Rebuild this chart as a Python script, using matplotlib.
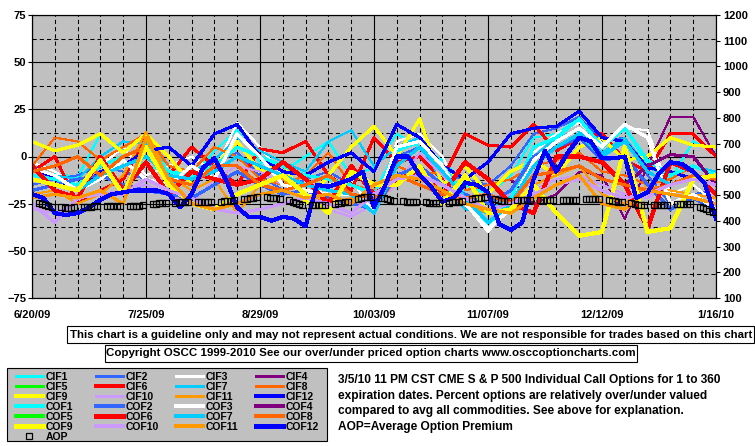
import matplotlib
matplotlib.use('Agg')
import matplotlib.pyplot as plt
from matplotlib.patches import Rectangle
from matplotlib.lines import Line2D
import pandas as pd

plt.rcParams['font.family'] = ['Liberation Sans', 'DejaVu Sans']
plt.rcParams['font.weight'] = 'bold'
plt.rcParams['lines.scale_dashes'] = False

W, H = 755, 446

# x axis = days since 6/20/09, one reading per week (half week for COF12)
week_days = list(range(0, 211, 7))
half_week_days = [d / 2 for d in range(0, 421, 7)]
tick_days = [0, 35, 70, 105, 140, 175, 210]
date_labels = ['6/20/09', '7/25/09', '8/29/09', '10/03/09', '11/07/09', '12/12/09', '1/16/10']

# percent over/under valued (left axis); None = nothing visible that week
cif1 = [-10, -9, -11, 12, 3, -5, -8, -12, 3, 14, -3, -8, 0, 8, -10, -6, 12, 5, -2, -15, -20, -10, 10, 12, 20, 4, 16, -5, -12, 8, 2]
cif2 = [-15, -12, -10, -5, -8, -12, -15, -10, -3, 2, -10, -18, -12, -8, -15, -20, 0, 5, -10, -12, -15, -5, 12, 15, 21, 8, 10, -10, -25, -20, -18]
cif3 = [-3, -8, -15, -5, 5, -10, -5, 0, -8, 18, 5, -10, -22, -15, -12, -30, 8, 12, 0, -25, -40, -25, 2, 12, 18, 7, 15, 14, -20, -15, -25]
cif4 = [None] * 21 + [-12, -25, -20, -8, -10, -33, -5, 21, 21, 0]
cif5 = []
cif6 = [-8, 0, -25, -18, -12, 10, -10, 5, -5, -15, 4, 2, 8, -10, -18, 10, -3, 0, -12, 12, 6, 5, 17, 3, 10, 12, -2, -8, 12, 12, 0]
cif7 = [-10, -10, -12, 0, 8, 7, -5, -8, -2, 10, 3, -3, -8, 8, 14, -5, 5, 10, -15, -28, -30, -20, 0, 10, 14, 2, 10, -6, -10, -5, -8]
cif8 = [-5, 10, 8, -2, 5, 12, -5, -8, 5, 0, -12, -15, -10, 2, -15, -18, -5, -10, -8, -18, -15, -12, -5, -2, 2, -8, -10, -15, -12, -5, -10]
cif9 = [8, 3, 6, 12, 2, 12, 0, -15, -5, 8, -8, -3, -25, -10, 5, 16, 0, 20, -15, -5, -20, -8, -2, -10, 5, 10, -2, 0, 10, 6, 5]
cif10 = [-28, -30, -25, -20, -18, -15, -20, -25, -12, -5, -8, -15, -20, -28, -32, -25, -15, 2, -10, -20, -25, -20, -18, -12, -10, -15, -20, -22, -15, -10, -12]
cif11 = [-20, -18, -25, -20, -10, 13, -10, -18, -12, -30, -15, -12, -20, -25, -22, -28, -12, -8, -20, -25, -30, -28, -15, -10, -5, -20, -25, -15, -18, -20, -22]
cif12 = [-5, -12, -18, -8, -5, 3, 5, -5, 12, 17, 0, -8, -10, -3, 2, -8, 17, 10, -5, -12, -3, 12, 15, 16, 24, 10, 8, -6, -8, -12, -15]
cof1 = [-10, -12, -15, -5, 0, 5, -8, -10, -5, 5, 0, -5, -10, -12, -15, -20, 3, 8, -5, -20, -38, -22, 5, 10, 20, 5, 15, -2, -10, -5, -10]
cof2 = [-18, -15, -12, -10, -15, -18, -20, -22, -15, -8, -15, -20, -18, -22, -25, -28, -10, -5, -15, -20, -25, -18, 0, 5, 10, -2, 0, -15, -28, -22, -28]
cof3 = [-6, -10, -18, -12, -2, -12, -15, -5, -12, 12, 0, -15, -18, -20, -20, -28, 5, 8, -5, -25, -38, -28, -2, 8, 15, 5, 17, 10, -25, -20, -28]
cof4 = [None] * 25 + [-12, -15, -5, 1, 0, -15]
cof5 = []
cof6 = [-5, -18, -22, 0, -18, -3, -20, -8, -12, -15, -12, -3, -12, -25, -5, -20, -12, -8, -20, -3, -12, -25, -30, 0, 0, -3, -15, -38, -3, -8, -20]
cof7 = [-12, -15, -18, -10, -5, 0, -10, -12, -8, 0, -5, -10, -15, -18, -20, -30, -5, 5, -8, -22, -35, -25, -5, 5, 12, 0, 8, -8, -15, -10, -12]
cof8 = [-8, -5, 0, -10, 0, 5, -12, -15, -5, -5, -15, -18, -15, -10, -20, -22, -10, -15, -20, -22, -20, -25, -10, -8, -5, -12, -15, -18, -15, -10, -12]
cof9 = [-12, -15, -18, -2, -20, 5, -15, -25, -28, -20, -15, -10, -20, -30, -8, -15, -15, -5, -25, -10, -30, -28, -15, -30, -42, -40, 5, -40, -38, -12, -10]
cof10 = [-25, -35, -22, -20, -20, -12, -18, -22, -28, -30, -28, -25, -22, -25, -30, -20, -12, -10, -15, -22, -28, -25, -20, -15, -12, -18, -22, -20, -15, -12, -15]
cof11 = [-22, -20, -22, -18, -25, 10, -12, -25, -28, -25, -20, -18, -22, -20, -25, -15, -10, -12, -18, -25, -28, -30, -22, -15, -10, -25, -28, -18, -20, -22, -25]
cof12 = [-20, -22, -30, -31, -30, -27, -23, -20, -19, -18, -18, -18, -20, -27, -20, -6,
         -1, -12, -27, -32, -32, -34, -32, -33, -37, -15, -16, -14, -12, -8, -27, -15,
         0, 0, -10, -16, -24, -22, -14, -15, -19, -36, -39, -35, -12, 3,
         -8, 2, 10, 8, -1, -1, 0, -22, -19, -9, -3, -4, -8, -14, -33]

# average option premium (right axis), one value per trading day
aop = [468, 466, 462, 458, 455, 452, 450, 449, 450, 452,
       453, 454, 455, 456, 456, 456, 457, 457, 457, 458,
       458, 458, 459, 459, 460, 464, 466, 468, 469, 470,
       471, 472, 472, 473, 473, 473, 473, 474, 474, 474,
       475, 476, 477, 478, 479, 484, 486, 488, 490, 491,
       491, 490, 489, 488, 486, 480, 475, 470, 466, 463,
       462, 461, 461, 462, 463, 467, 469, 471, 473, 475,
       486, 489, 491, 492, 491, 489, 487, 484, 481, 478,
       476, 475, 474, 473, 473, 472, 471, 470, 470, 471,
       471, 472, 473, 474, 476, 484, 487, 489, 490, 491,
       486, 482, 478, 476, 476, 480, 480, 481, 481, 481,
       481, 481, 481, 482, 482, 481, 481, 481, 482, 482,
       483, 483, 484, 484, 483, 480, 478, 476, 474, 473,
       470, 466, 463, 461, 460, 460, 460, 461, 461, 462,
       465, 466, 466, 465, 464, 452, 448, 444, 440, 436]
trade_dates = pd.bdate_range('2009-06-22', '2010-01-15')
aop_days = list((trade_dates - pd.Timestamp('2009-06-20')).days)

names = ['CIF1', 'CIF2', 'CIF3', 'CIF4', 'CIF5', 'CIF6', 'CIF7', 'CIF8', 'CIF9', 'CIF10', 'CIF11', 'CIF12',
         'COF1', 'COF2', 'COF3', 'COF4', 'COF5', 'COF6', 'COF7', 'COF8', 'COF9', 'COF10', 'COF11', 'COF12']
series = [cif1, cif2, cif3, cif4, cif5, cif6, cif7, cif8, cif9, cif10, cif11, cif12,
          cof1, cof2, cof3, cof4, cof5, cof6, cof7, cof8, cof9, cof10, cof11, cof12]

palette = ['#00FFFF', '#3366FF', '#FFFFFF', '#800080', '#00FF00', '#FF0000',
           '#00CCFF', '#FF6600', '#FFFF00', '#CC99FF', '#FF9900', '#0000FF']
cif_widths = [0.75, 0.75, 0.75, 0.75, 0.75, 1.5, 0.75, 0.75, 1.5, 0.75, 0.75, 1.5]
cof_widths = [1.5, 1.5, 1.5, 1.5, 1.5, 2.25, 1.5, 1.5, 2.25, 1.5, 1.5, 2.25]
colors = palette + palette
widths = cif_widths + cof_widths

fig = plt.figure(figsize=(W / 100, H / 100), dpi=100)
fig.patch.set_facecolor('white')
ax = fig.add_axes([32 / W, 1 - 298 / H, (716 - 32) / W, (298 - 15) / H])
ax.set_facecolor('#C0C0C0')

handles = {}
for name, vals, c, lw in zip(names, series, colors, widths):
    vals = [float('nan') if v is None else v for v in vals]
    xs = half_week_days if len(vals) == len(half_week_days) else week_days[:len(vals)]
    ln, = ax.plot(xs, vals, color=c, lw=lw, antialiased=False)
    handles[name] = ln

ax.set_xlim(0, 210)
ax.set_ylim(-75, 75)
ax.set_xticks(tick_days)
ax.set_xticklabels(date_labels)
ax.set_xticks(list(range(7, 210, 7)), minor=True)
ax.set_yticks([-75, -50, -25, 0, 25, 50, 75])
ax.set_yticks([-62.5, -37.5, -12.5, 12.5, 37.5, 62.5], minor=True)
ax.grid(True, which='major', color='black', lw=0.8, ls='-')
ax.grid(True, which='minor', color='black', lw=0.75, ls=(0, (3, 2.2)))
ax.set_axisbelow(True)
ax.tick_params(axis='x', which='both', length=0, pad=9, labelsize=8)
ax.tick_params(axis='y', which='major', length=3, width=0.8, pad=1, labelsize=8, direction='out')
ax.tick_params(axis='y', which='minor', length=0)
for s in ax.spines.values():
    s.set_color('black')
    s.set_linewidth(0.8)

ax2 = ax.twinx()
ax2.set_ylim(100, 1200)
ax2.set_yticks(list(range(100, 1201, 100)))
ax2.tick_params(axis='y', length=3, width=0.8, pad=2, labelsize=8, direction='out')
aop_ln, = ax2.plot(aop_days, aop, ls='none', marker='s', ms=4, mfc='none', mec='black', mew=0.9)
handles['AOP'] = aop_ln


def fx(x):
    return x / W


def fy(y):
    return 1 - y / H


# disclaimer boxes
fig.patches.append(Rectangle((fx(67), fy(343)), fx(754) - fx(67), fy(326) - fy(343),
                             transform=fig.transFigure, facecolor='white', edgecolor='black', lw=0.8))
fig.text(fx(411), fy(334.5), 'This chart is a guideline only and may not represent actual conditions. '
         'We are not responsible for trades based on this chart', ha='center', va='center', fontsize=8.25)
fig.patches.append(Rectangle((fx(105), fy(362)), fx(637) - fx(105), fy(345) - fy(362),
                             transform=fig.transFigure, facecolor='white', edgecolor='black', lw=0.8))
fig.text(fx(371), fy(353.5), 'Copyright OSCC 1999-2010 See our over/under priced option charts www.osccoptioncharts.com',
         ha='center', va='center', fontsize=8.25)

# legend box, laid out row by row like the original
fig.patches.append(Rectangle((fx(7), fy(441)), fx(327) - fx(7), fy(368) - fy(441),
                             transform=fig.transFigure, facecolor='#C0C0C0', edgecolor='black', lw=0.8))
for i, name in enumerate(names + ['AOP']):
    x0 = 16 + 80 * (i % 4)
    yc = 376 + 10 * (i // 4)
    h = handles[name]
    if name == 'AOP':
        fig.add_artist(Line2D([fx(x0 + 13)], [fy(yc)], transform=fig.transFigure, ls='none',
                              marker='s', ms=4, mfc='none', mec='black', mew=0.9))
    else:
        fig.add_artist(Line2D([fx(x0), fx(x0 + 27)], [fy(yc), fy(yc)], transform=fig.transFigure,
                              color=h.get_color(), lw=h.get_linewidth(), antialiased=False))
    fig.text(fx(x0 + 30), fy(yc + 0.5), name, ha='left', va='center', fontsize=7.5)

note = ['3/5/10 11 PM CST CME S & P 500 Individual Call Options for 1 to 360',
        'expiration dates. Percent options are relatively over/under valued',
        'compared to avg all commodities. See above for explanation.',
        'AOP=Average Option Premium']
for k, line in enumerate(note):
    fig.text(fx(338), fy(380 + 15.7 * k), line, ha='left', va='center', fontsize=8.6)

fig.savefig('out.png', dpi=100, facecolor='white')
